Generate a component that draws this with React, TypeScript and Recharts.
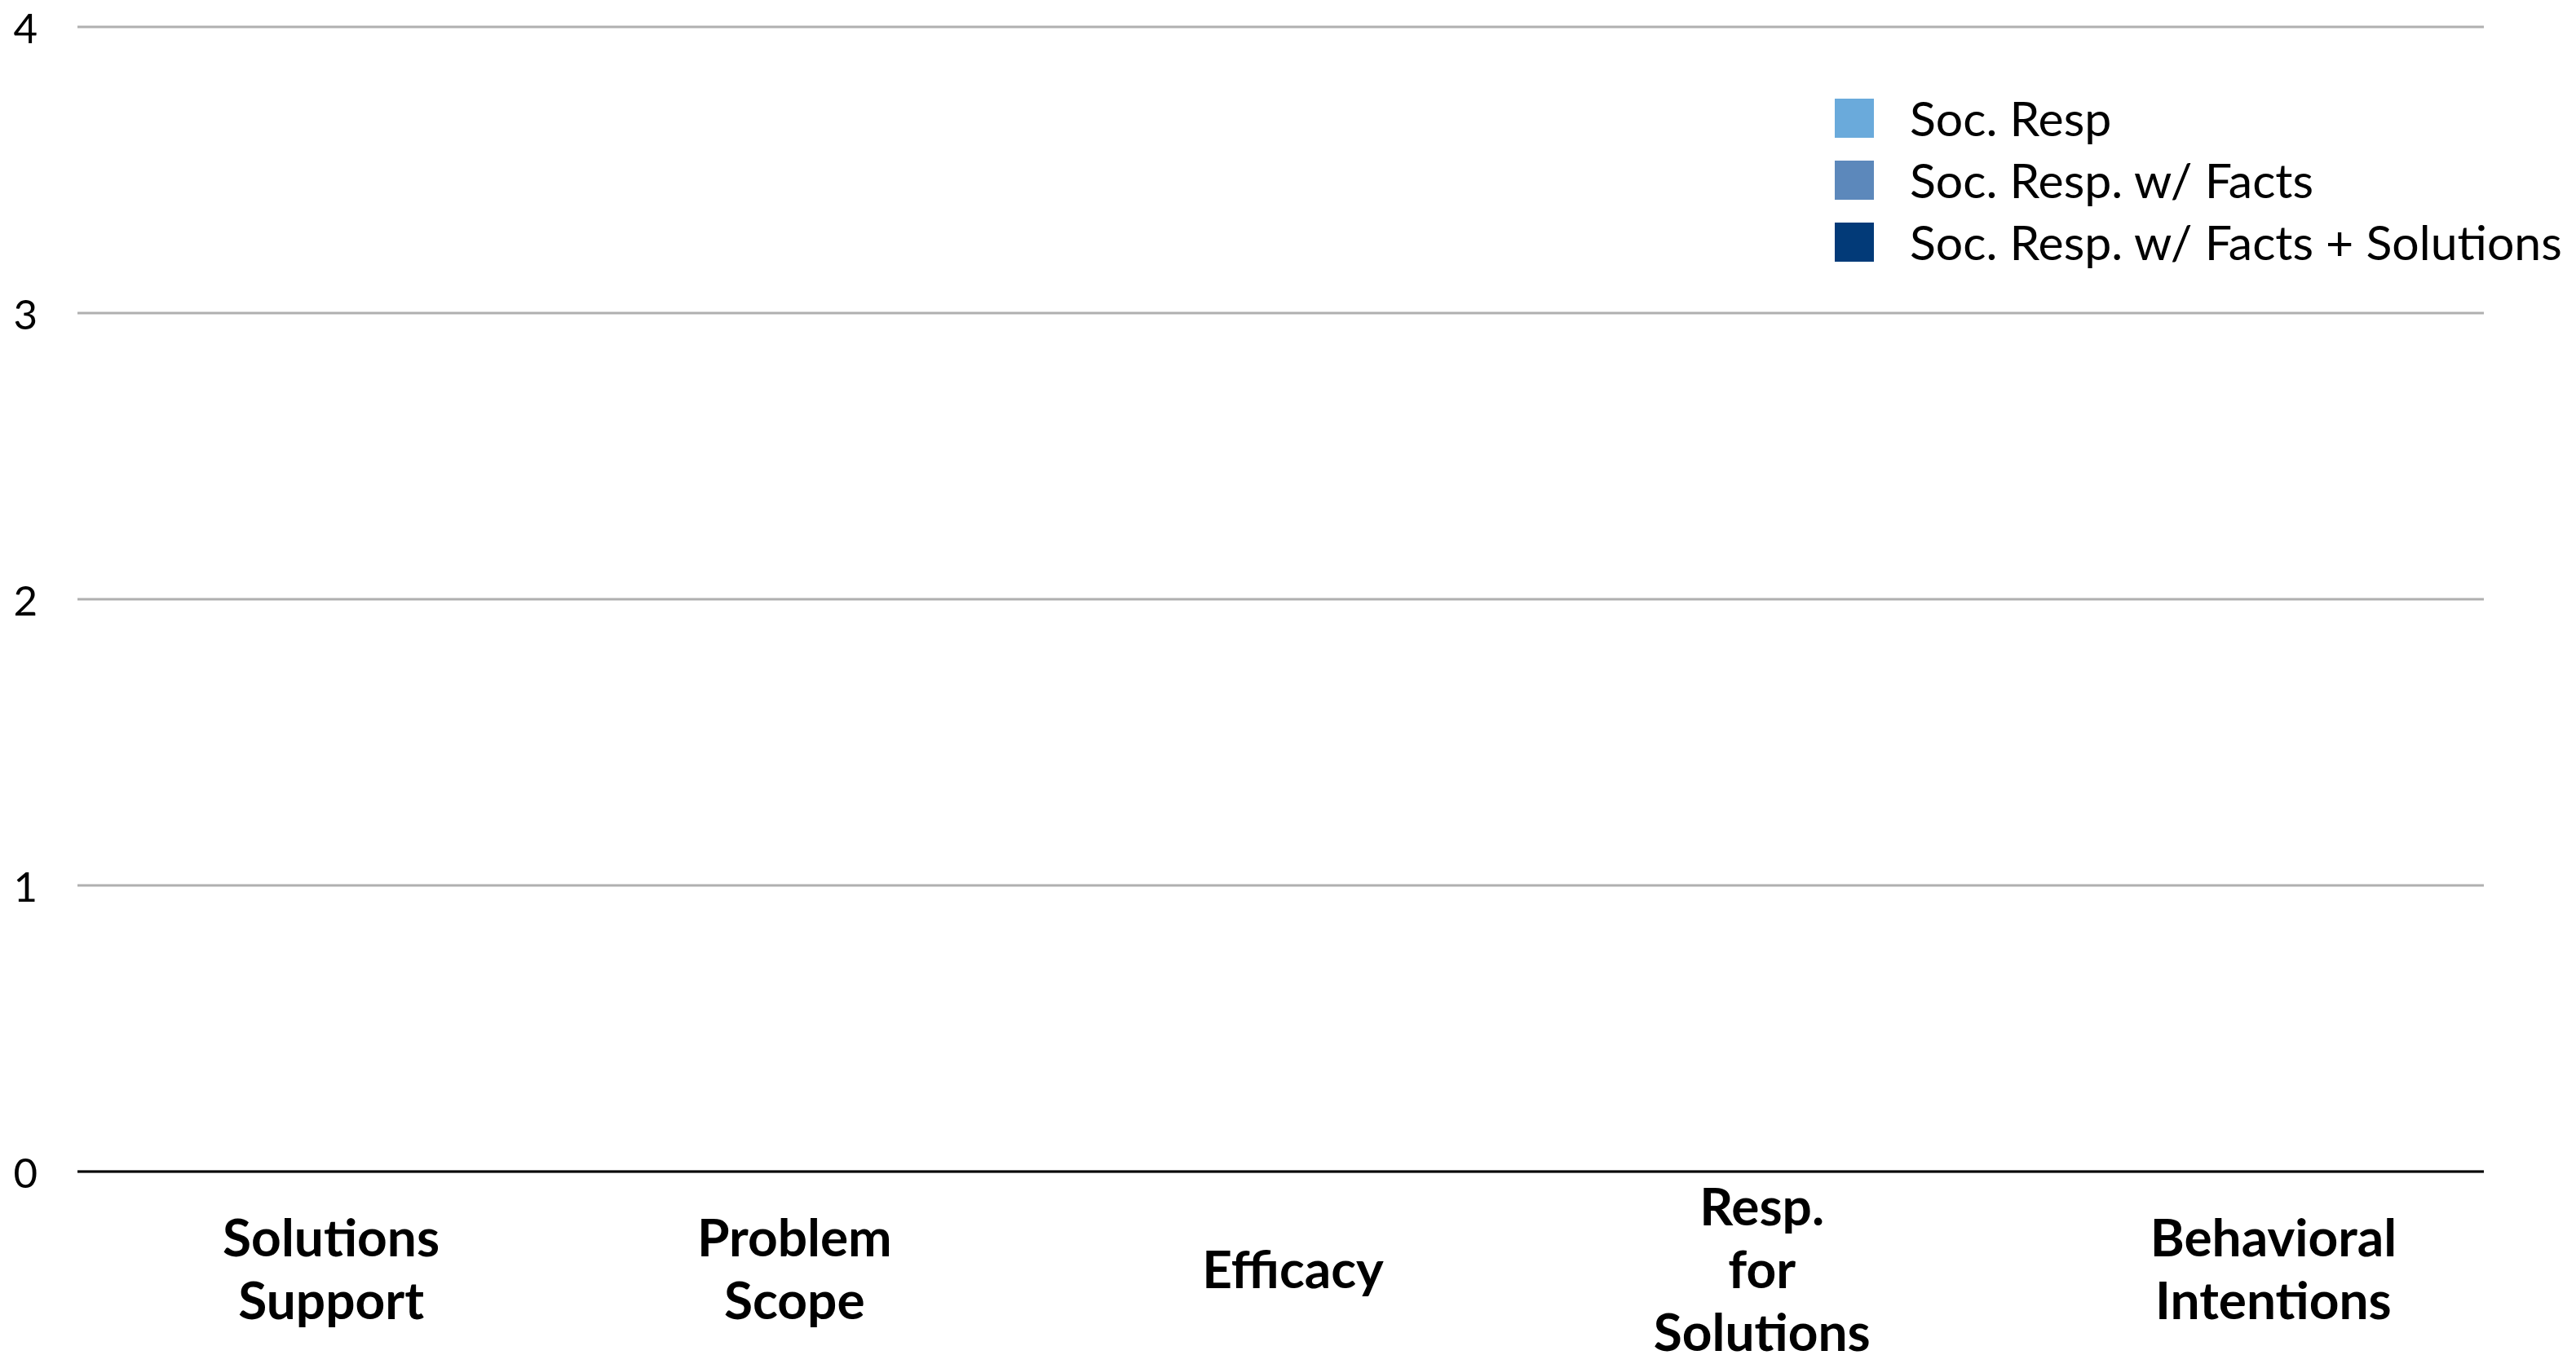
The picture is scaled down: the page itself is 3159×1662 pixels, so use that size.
import React from "react";
import { BarChart, Bar, XAxis, YAxis, CartesianGrid, Legend } from "recharts";

const categories = [
  "Solutions\nSupport",
  "Problem\nScope",
  "Efficacy",
  "Resp.\nfor\nSolutions",
  "Behavioral\nIntentions",
];
// No bars are visible in the reference: every series value is zero.
const socResp: number[] = [0, 0, 0, 0, 0];
const socRespFacts: number[] = [0, 0, 0, 0, 0];
const socRespFactsSolutions: number[] = [0, 0, 0, 0, 0];
const seriesNames = ["Soc. Resp", "Soc. Resp. w/ Facts", "Soc. Resp. w/ Facts + Solutions"];
const seriesColors = ["#6aaadb", "#5c88bb", "#023a78"];
const yTicks = [0, 1, 2, 3, 4];

const data = categories.map((c, i) => ({
  name: c,
  s1: socResp[i],
  s2: socRespFacts[i],
  s3: socRespFactsSolutions[i],
}));

const FONT = "Lato, 'Open Sans', sans-serif";
// small horizontal nudges of the hand-placed category labels in the original
const LABEL_NUDGE = [16, -6, 15, 0, 37];

const XTick = (props: any) => {
  const { x, y, payload, index } = props;
  const lines = String(payload.value).split("\n");
  const lh = 77;
  const center = y + 110;
  const start = center - ((lines.length - 1) * lh) / 2;
  const dx = LABEL_NUDGE[index] || 0;
  return (
    <g>
      {lines.map((l, i) => (
        <text
          key={i}
          x={x + dx}
          y={start + i * lh}
          textAnchor="middle"
          dominantBaseline="central"
          fontFamily={FONT}
          fontWeight={700}
          fontSize={64}
          fill="#000"
        >
          {l}
        </text>
      ))}
    </g>
  );
};

const YTick = (props: any) => {
  const { x, y, payload } = props;
  return (
    <text
      x={x}
      y={y}
      textAnchor="end"
      dominantBaseline="central"
      fontFamily={FONT}
      fontSize={51}
      fill="#000"
    >
      {payload.value}
    </text>
  );
};

const LegendContent = () => (
  <div style={{ fontFamily: FONT }}>
    {seriesNames.map((n, i) => (
      <div
        key={n}
        style={{ display: "flex", alignItems: "center", height: 76, whiteSpace: "nowrap" }}
      >
        <div
          style={{
            width: 48,
            height: 48,
            flexShrink: 0,
            background: seriesColors[i],
            marginRight: 44,
          }}
        />
        <span style={{ fontSize: 59, color: "#000", lineHeight: "76px" }}>{n}</span>
      </div>
    ))}
  </div>
);

export default function App() {
  return (
    <BarChart
      width={3151}
      height={1654}
      data={data}
      margin={{ top: 25, right: 113, bottom: 0, left: 0 }}
      barCategoryGap="20%"
    >
      <CartesianGrid vertical={false} stroke="#b0b0b0" strokeWidth={3} />
      <XAxis
        dataKey="name"
        height={225}
        axisLine={{ stroke: "#000", strokeWidth: 3 }}
        tickLine={false}
        tick={<XTick />}
        interval={0}
      />
      <YAxis
        width={87}
        domain={[0, 4]}
        ticks={yTicks}
        allowDataOverflow
        axisLine={false}
        tickLine={false}
        tickSize={0}
        tickMargin={49}
        tick={<YTick />}
      />
      <Legend
        content={<LegendContent />}
        layout="vertical"
        verticalAlign="middle"
        align="center"
        wrapperStyle={{ top: 99, left: 2242, width: 900 }}
      />
      <Bar dataKey="s1" name={seriesNames[0]} fill={seriesColors[0]} isAnimationActive={false} />
      <Bar dataKey="s2" name={seriesNames[1]} fill={seriesColors[1]} isAnimationActive={false} />
      <Bar dataKey="s3" name={seriesNames[2]} fill={seriesColors[2]} isAnimationActive={false} />
    </BarChart>
  );
}
